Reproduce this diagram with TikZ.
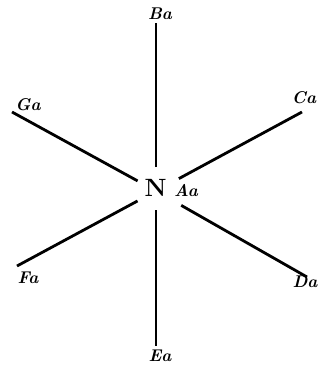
\documentclass[tikz,border=0pt]{standalone}
\begin{document}
\begin{tikzpicture}[x=1pt,y=-1pt,line width=2.8pt,
    lbl/.style={font=\fontsize{17}{17}\selectfont\bfseries\itshape}]
	\useasboundingbox (0,0) rectangle (320,367);
	\coordinate (O) at (156,191); % hub of the six lines
	\coordinate (B) at (156,23);
	\coordinate (E) at (156,346);
	\coordinate (G) at (12,112);
	\coordinate (C) at (302,112);
	\coordinate (F) at (17,266);
	\coordinate (D) at (307,277);
	
	\node[font=\fontsize{25}{25}\selectfont\bfseries] (N) at (155.5,187.5) {N};
	
	\draw[shorten <=24pt] (O)--(B);
	\draw[shorten <=19pt] (O)--(E);
	\draw[shorten <=21pt] (O)--(G);
	\draw[shorten <=26pt] (O)--(C);
	\draw[shorten <=21pt] (O)--(F);
	\draw[shorten <=29pt] (O)--(D);
	
	\node[lbl] (Ba) at (160,14) {Ba};
	\node[lbl] (Ga) at (28,105) {Ga};
	\node[lbl] (Ca) at (304,98) {Ca};
	\node[lbl] (Aa) at (186,191) {Aa};
	\node[lbl] (Fa) at (28,278) {Fa};
	\node[lbl] (Da) at (305,282) {Da};
	\node[lbl] (Ea) at (160,356) {Ea};
\end{tikzpicture}
\end{document}
